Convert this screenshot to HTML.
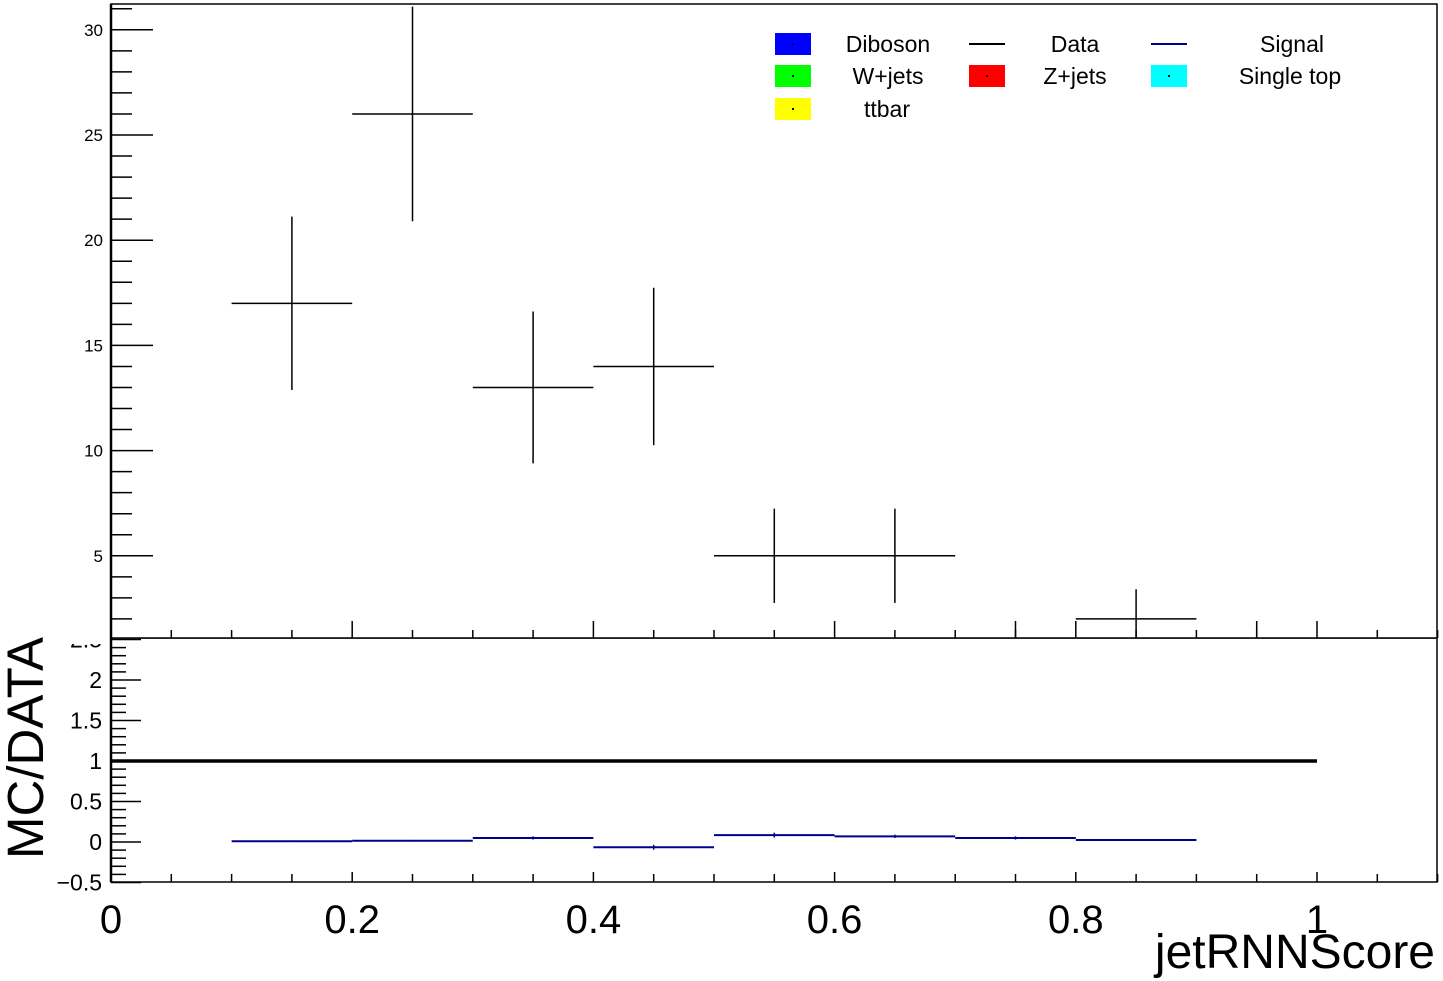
<!DOCTYPE html>
<html><head><meta charset="utf-8"><style>
html,body{margin:0;padding:0;background:#fff;}
svg{display:block;font-family:"Liberation Sans",Arial,sans-serif;}
</style></head><body>
<svg id="c" width="1443" height="981" viewBox="0 0 1443 981" xmlns="http://www.w3.org/2000/svg"></svg>
<script>
const binLo = [0.1,0.2,0.3,0.4,0.5,0.6,0.7,0.8,0.9];
const dataVals = [17,26,13,14,5,5,0,2,0];
const dataErrUp = [4.12,5.1,3.61,3.74,2.24,2.24,1.9,1.41,1.9];
const dataErrDn = [4.12,5.1,3.61,3.74,2.24,2.24,0,1.41,0];
const ratioBins = [0.1,0.2,0.3,0.4,0.5,0.6,0.7,0.8];
const ratioVals = [0.01,0.015,0.05,-0.065,0.085,0.07,0.05,0.025];
const ratioErr = [0.01,0.01,0.02,0.03,0.03,0.02,0.02,0.01];
const yTicks = [5,10,15,20,25,30];
const rTicks = [-0.5,0,0.5,1,1.5,2,2.5];
const xTicks = [0,0.2,0.4,0.6,0.8,1];

const svgRoot=document.getElementById('c');
const NS='http://www.w3.org/2000/svg';
function el(t,a,p){const e=document.createElementNS(NS,t);for(const k in a)e.setAttribute(k,a[k]);(p||svgRoot).appendChild(e);return e;}
const X=v=>111+v*1206;
const Y=v=>661-v*21.04;
const R=v=>842-v*81;
const PL=111,PR=1437;

// bottom pad
const botPad=el('g',{});


for(let i=-5;i<=25;i++){const v=i/10;const y=R(v);if(y<638)continue;const maj=(i%5===0);
 el('line',{x1:PL,x2:PL+(maj?30:15),y1:y,y2:y,stroke:'#000','stroke-width':1.5},botPad);}
rTicks.forEach(v=>{const t=el('text',{x:102,y:R(v)+8,'font-size':23,'text-anchor':'end'},botPad);t.textContent=(v<0?'\u2212'+(-v):String(v));
 });
for(let i=0;i<=22;i++){const v=i*0.05;const x=X(v);const maj=(i%4===0);
 el('line',{x1:x,x2:x,y1:882,y2:882-(maj?10:8),stroke:'#000','stroke-width':1.5},botPad);}
const rl=el('line',{x1:X(0),x2:X(1),y1:R(1),y2:R(1),stroke:'#000','stroke-width':3.5},botPad);

ratioBins.forEach((b,i)=>{const g=el('g',{},botPad);
 
 el('line',{x1:X(b),x2:X(b+0.1),y1:R(ratioVals[i]),y2:R(ratioVals[i]),stroke:'#00008b','stroke-width':2},g);
 el('line',{x1:X(b+0.05),x2:X(b+0.05),y1:R(ratioVals[i]+ratioErr[i]),y2:R(ratioVals[i]-ratioErr[i]),stroke:'#00008b','stroke-width':1.5},g);});
el('rect',{x:PL,y:638,width:PR-PL,height:244,fill:'none',stroke:'#000','stroke-width':1.5},botPad);
el('line',{x1:PL,x2:PL,y1:638,y2:882,stroke:'#000','stroke-width':2.5},botPad);
// cover part of 2.5 label like reference (clipped by top pad)
el('rect',{x:50,y:625,width:59,height:19,fill:'#fff'});
const ry=el('text',{x:0,y:0,'font-size':51,'text-anchor':'middle',transform:'translate(43,748) rotate(-90)'});
ry.textContent='MC/DATA';
xTicks.forEach(v=>{const t=el('text',{x:X(v),y:933,'font-size':40,'text-anchor':'middle'});t.textContent=String(v);
 });
const xt=el('text',{x:1435,y:968,'font-size':48,'text-anchor':'end'});xt.textContent='jetRNNScore';


// top pad
const topPad=el('g',{});


el('rect',{x:PL,y:4,width:PR-PL,height:634,fill:'#fff'},topPad);
for(let v=2;v<=31;v++){const y=Y(v);const maj=(v%5===0);
 el('line',{x1:PL,x2:PL+(maj?42:21),y1:y,y2:y,stroke:'#000','stroke-width':1.5},topPad);}
yTicks.forEach(v=>{const t=el('text',{x:103,y:Y(v)+6,'font-size':17,'text-anchor':'end'},topPad);t.textContent=String(v);
 });
for(let i=0;i<=22;i++){const v=i*0.05;const x=X(v);const maj=(i%4===0);
 el('line',{x1:x,x2:x,y1:638,y2:638-(maj?17:8),stroke:'#000','stroke-width':1.5},topPad);}
const cp=el('clipPath',{id:'cl'},topPad);el('rect',{x:PL,y:4,width:PR-PL,height:634},cp);
const dg=el('g',{'clip-path':'url(#cl)'},topPad);
binLo.forEach((b,i)=>{const g=el('g',{},dg);
 
 const v=dataVals[i];
 if(v>0) el('line',{x1:X(b),x2:X(b+0.1),y1:Y(v),y2:Y(v),stroke:'#000','stroke-width':1.5},g);
 el('line',{x1:X(b+0.05),x2:X(b+0.05),y1:Y(v+dataErrUp[i]),y2:Y(v-dataErrDn[i]),stroke:'#000','stroke-width':1.5},g);});
el('rect',{x:PL,y:4,width:PR-PL,height:634,fill:'none',stroke:'#000','stroke-width':1.5},topPad);
el('line',{x1:PL,x2:PL,y1:4,y2:638,stroke:'#000','stroke-width':2.5},topPad);

// legend
const legendItems=[['Diboson','#0000ff','box',793,44,888],['Data','#000','line',987,44,1075],['Signal','#00008b','line',1169,44,1292],
 ['W+jets','#00ff00','box',793,76,888],['Z+jets','#ff0000','box',987,76,1075],['Single top','#00ffff','box',1169,76,1290],
 ['ttbar','#ffff00','box',793,109,887]];
legendItems.forEach(e=>{const g=el('g',{},topPad);
 
 if(e[2]==='box'){el('rect',{x:e[3]-18,y:e[4]-11,width:36,height:22,fill:e[1]},g);el('rect',{x:e[3]-1,y:e[4]-1,width:2,height:2,fill:'#000'},g);}
 else el('line',{x1:e[3]-18,x2:e[3]+18,y1:e[4],y2:e[4],stroke:e[1],'stroke-width':2},g);
 const t=el('text',{x:e[5],y:e[4]+8,'font-size':23,'text-anchor':'middle'},g);t.textContent=e[0];});
</script>
</body></html>
